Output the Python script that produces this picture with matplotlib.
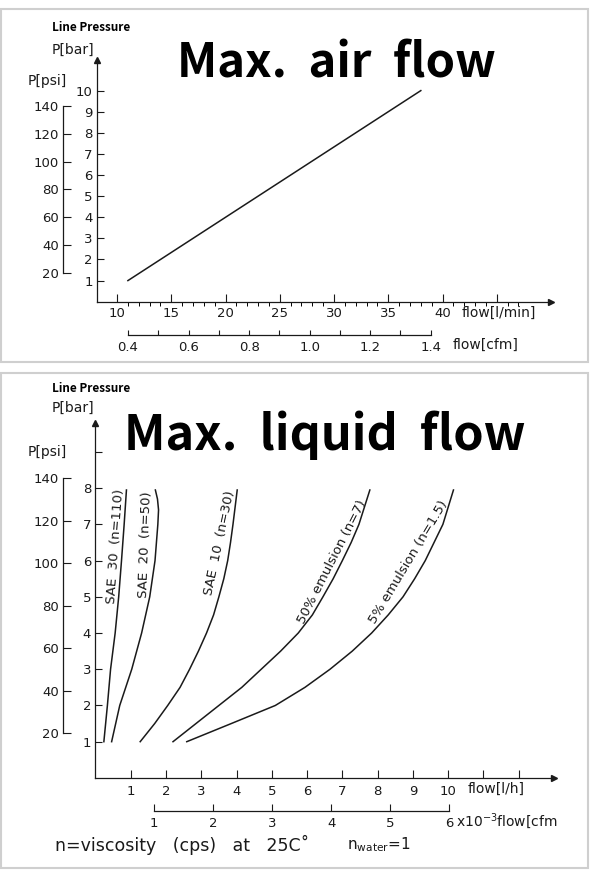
import numpy as np
import matplotlib.pyplot as plt
from matplotlib.patches import Rectangle

W, H = 590, 883
INK = '#1a1a1a'
DRAFT = 'DejaVu Sans'
TITLE = ['Noto Sans CJK KR', 'DejaVu Sans']

# -----------------------------
# Data: max. air flow
# -----------------------------
air_flow_lmin = [11, 38]
air_pressure_bar = [1, 10]

air_bar_ticks = [1, 2, 3, 4, 5, 6, 7, 8, 9, 10]
psi_ticks = [20, 40, 60, 80, 100, 120, 140]
lmin_major = [10, 15, 20, 25, 30, 35, 40, 45]
lmin_labels = ['10', '15', '20', '25', '30', '35', '40', '']
lmin_minor = list(range(10, 48))
cfm_air_ticks = [0.4, 0.5, 0.6, 0.7, 0.8, 0.9, 1.0, 1.1, 1.2, 1.3, 1.4]
cfm_air_labels = ['0.4', '', '0.6', '', '0.8', '', '1.0', '', '1.2', '', '1.4']

# -----------------------------
# Data: max. liquid flow (flow in l/h, pressure in bar)
# -----------------------------
sae30_flow = [0.24, 0.34, 0.43, 0.56, 0.66, 0.74, 0.815, 0.88]
sae30_bar = [1, 2, 3, 4, 5, 6, 7, 7.95]
sae20_flow = [0.46, 0.69, 1.03, 1.31, 1.54, 1.69, 1.77, 1.79, 1.76, 1.70]
sae20_bar = [1, 2, 3, 4, 5, 6, 7, 7.4, 7.7, 7.95]
sae10_flow = [1.27, 1.68, 2.05, 2.4, 2.67, 2.92, 3.15, 3.35, 3.50, 3.64, 3.75, 3.83, 3.90, 4.02]
sae10_bar = [1, 1.5, 2, 2.5, 3, 3.5, 4, 4.5, 5, 5.5, 6, 6.5, 7, 7.95]
emul50_flow = [2.2, 2.85, 3.5, 4.15, 4.7, 5.25, 5.75, 6.15, 6.45, 6.74, 7.0, 7.25, 7.47, 7.78]
emul50_bar = [1, 1.5, 2, 2.5, 3, 3.5, 4, 4.5, 5, 5.5, 6, 6.5, 7, 7.95]
emul5_flow = [2.59, 3.85, 5.1, 5.94, 6.65, 7.28, 7.83, 8.3, 8.72, 9.05, 9.35, 9.6, 9.85, 10.15]
emul5_bar = [1, 1.5, 2, 2.5, 3, 3.5, 4, 4.5, 5, 5.5, 6, 6.5, 7, 7.95]

liq_bar_ticks = [1, 2, 3, 4, 5, 6, 7, 8, 9]
liq_bar_labels = ['1', '2', '3', '4', '5', '6', '7', '8', '']
lh_ticks = [1, 2, 3, 4, 5, 6, 7, 8, 9, 10, 11, 12]
lh_labels = ['1', '2', '3', '4', '5', '6', '7', '8', '9', '10', '', '']
cfm_liq_ticks = [1, 2, 3, 4, 5, 6]

curve_labels = ['SAE  30  (n=110)', 'SAE  20  (n=50)', 'SAE  10  (n=30)',
                '50% emulsion (n=7)', '5% emulsion (n=1.5)']


def box(x0, y0, x1, y1):
    # pixel box (top-left origin) -> figure fraction
    return [x0 / W, 1 - y1 / H, (x1 - x0) / W, (y1 - y0) / H]


def fx(x):
    return x / W


def fy(y):
    return 1 - y / H


def style_axis(ax, show=('left', 'bottom')):
    for s in ['left', 'right', 'top', 'bottom']:
        ax.spines[s].set_visible(s in show)
        ax.spines[s].set_color(INK)
        ax.spines[s].set_linewidth(0.9)
    ax.patch.set_alpha(0)
    ax.tick_params(colors=INK, labelsize=9.5, width=0.8, direction='in')
    for lab in ax.get_xticklabels() + ax.get_yticklabels():
        lab.set_family(DRAFT)


fig = plt.figure(figsize=(W / 100, H / 100), dpi=100)
fig.patch.set_facecolor('white')

# panel frames
for (x0, y0, x1, y1) in [(1, 9, 588, 362), (1, 373, 588, 868)]:
    fig.patches.append(Rectangle((fx(x0), fy(y1)), (x1 - x0) / W, (y1 - y0) / H,
                                 transform=fig.transFigure, fill=False,
                                 ec='#cfcfcf', lw=1.5))

# -----------------------------
# 1. Max. air flow
# -----------------------------
ax1 = fig.add_axes(box(97, 60, 551, 301.7))
ax1.plot(air_flow_lmin, air_pressure_bar, color=INK, lw=1.1)
ax1.set_xlim(8.15, 50)
ax1.set_ylim(0, 11.45)
ax1.set_yticks(air_bar_ticks)
ax1.set_yticklabels([str(t) for t in air_bar_ticks])
ax1.set_xticks(lmin_major)
ax1.set_xticklabels(lmin_labels)
ax1.set_xticks(lmin_minor, minor=True)
style_axis(ax1)
ax1.tick_params(axis='y', length=5, pad=3)
ax1.tick_params(axis='x', which='major', length=6, pad=4)
ax1.tick_params(axis='x', which='minor', length=3, width=0.7)
ax1.plot(1, 0, '>', color=INK, ms=5, transform=ax1.transAxes, clip_on=False)
ax1.plot(0, 1, '^', color=INK, ms=4, transform=ax1.transAxes, clip_on=False)

psi1 = fig.add_axes(box(63, 106, 70, 273))
psi1.set_ylim(20, 140)
psi1.set_yticks(psi_ticks)
psi1.set_xticks([])
style_axis(psi1, show=('left',))
psi1.tick_params(axis='y', length=6, pad=3)

cfm1 = fig.add_axes(box(128, 320, 430.7, 335))
cfm1.set_xlim(0.4, 1.4)
cfm1.set_xticks(cfm_air_ticks)
cfm1.set_xticklabels(cfm_air_labels)
cfm1.set_yticks([])
style_axis(cfm1, show=('bottom',))
cfm1.tick_params(axis='x', length=3.5, pad=4)

fig.text(fx(52), fy(31), 'Line Pressure', family=TITLE, weight='bold',
         fontsize=8.5, color='black', va='baseline')
fig.text(fx(52), fy(50), 'P[bar]', family=DRAFT, fontsize=10, color=INK, va='center')
fig.text(fx(28), fy(81), 'P[psi]', family=DRAFT, fontsize=10, color=INK, va='center')
fig.text(fx(336.5), fy(78), 'Max.  air  flow', family=TITLE, weight='bold',
         fontsize=34, color='black', ha='center', va='baseline')
fig.text(fx(462), fy(313), 'flow[l/min]', family=DRAFT, fontsize=10, color=INK, va='center')
fig.text(fx(453), fy(345), 'flow[cfm]', family=DRAFT, fontsize=10, color=INK, va='center')

# -----------------------------
# 2. Max. liquid flow
# -----------------------------
ax2 = fig.add_axes(box(95.4, 423, 554, 777.9))
curves = [(sae30_flow, sae30_bar), (sae20_flow, sae20_bar), (sae10_flow, sae10_bar),
          (emul50_flow, emul50_bar), (emul5_flow, emul5_bar)]
for fl, pb in curves:
    ax2.plot(fl, pb, color=INK, lw=1.1)
ax2.set_xlim(0, 13)
ax2.set_ylim(0, 9.8)
ax2.set_yticks(liq_bar_ticks)
ax2.set_yticklabels(liq_bar_labels)
ax2.set_xticks(lh_ticks)
ax2.set_xticklabels(lh_labels)
style_axis(ax2)
ax2.tick_params(axis='y', length=5, pad=3)
ax2.tick_params(axis='x', length=6, pad=5)
ax2.plot(1, 0, '>', color=INK, ms=5, transform=ax2.transAxes, clip_on=False)
ax2.plot(0, 1, '^', color=INK, ms=4, transform=ax2.transAxes, clip_on=False)

# curve labels (position in data units, rotation in degrees)
label_pos = [(0.58, 6.4, 86), (1.41, 6.43, 88), (3.53, 6.49, 78),
             (6.7, 5.95, 63), (8.87, 5.95, 59)]
for txt, (lx, ly, rot) in zip(curve_labels, label_pos):
    ax2.text(lx, ly, txt, rotation=rot, rotation_mode='anchor', ha='center',
             va='center', family=DRAFT, fontsize=9.5, color=INK)

psi2 = fig.add_axes(box(63, 478.3, 70, 733.3))
psi2.set_ylim(20, 140)
psi2.set_yticks(psi_ticks)
psi2.set_xticks([])
style_axis(psi2, show=('left',))
psi2.tick_params(axis='y', length=6, pad=3)

cfm2 = fig.add_axes(box(154, 796, 449.3, 811))
cfm2.set_xlim(1, 6)
cfm2.set_xticks(cfm_liq_ticks)
cfm2.set_yticks([])
style_axis(cfm2, show=('bottom',))
cfm2.tick_params(axis='x', length=5, pad=4)

fig.text(fx(52), fy(392), 'Line Pressure', family=TITLE, weight='bold',
         fontsize=8.5, color='black', va='baseline')
fig.text(fx(52), fy(408), 'P[bar]', family=DRAFT, fontsize=10, color=INK, va='center')
fig.text(fx(28), fy(452), 'P[psi]', family=DRAFT, fontsize=10, color=INK, va='center')
fig.text(fx(324.5), fy(450), 'Max.  liquid  flow', family=TITLE, weight='bold',
         fontsize=35, color='black', ha='center', va='baseline')
fig.text(fx(468), fy(789), 'flow[l/h]', family=DRAFT, fontsize=10, color=INK, va='center')
fig.text(fx(456), fy(821), r'x10$^{\mathregular{-3}}$flow[cfm', family=DRAFT,
         fontsize=10, color=INK, va='center')
fig.text(fx(55), fy(845), 'n=viscosity   (cps)   at   25C\u02da', family=DRAFT,
         fontsize=12.5, color=INK, va='center')
fig.text(fx(347), fy(845), r'n$_{\mathregular{water}}$=1', family=DRAFT,
         fontsize=11, color=INK, va='center')

fig.savefig('out.png', dpi=100, facecolor='white')
